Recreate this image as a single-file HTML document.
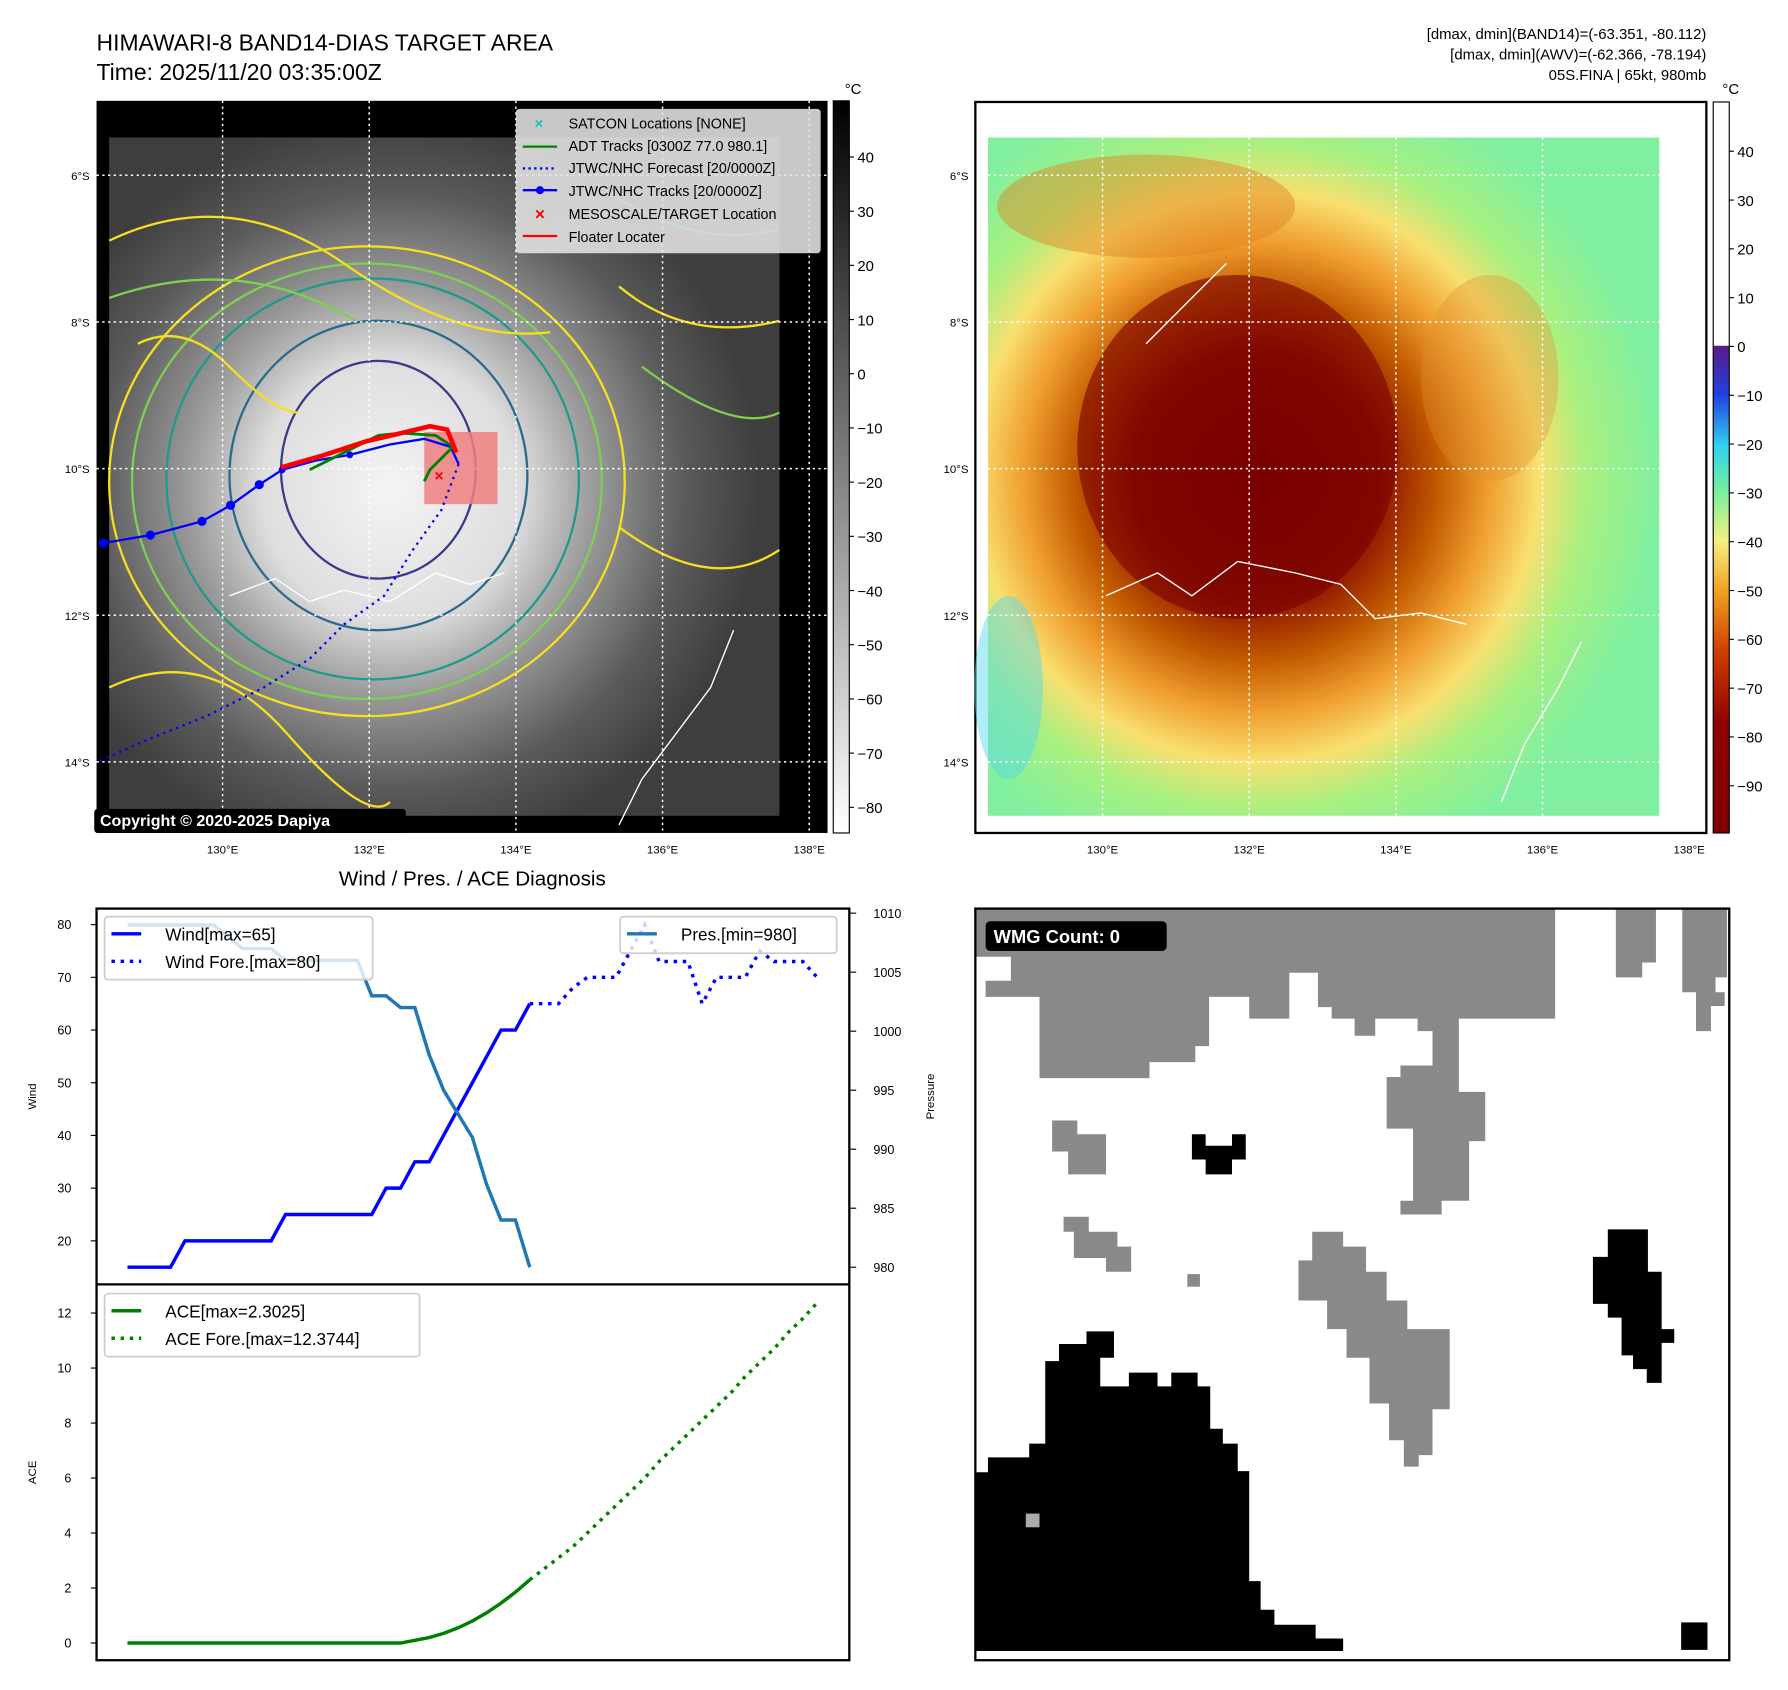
<!DOCTYPE html>
<html><head><meta charset="utf-8">
<style>
html,body{margin:0;padding:0;background:#fff;}
svg{display:block;font-family:"Liberation Sans","DejaVu Sans",sans-serif;}
</style></head>
<body>
<svg id="root" width="1788" height="1690" viewBox="0 0 1560 1475" xmlns="http://www.w3.org/2000/svg">
<defs>
  <radialGradient id="cloud" cx="0.42" cy="0.52" r="0.55">
    <stop offset="0" stop-color="#f4f4f4"/>
    <stop offset="0.35" stop-color="#dedede"/>
    <stop offset="0.55" stop-color="#9a9a9a"/>
    <stop offset="0.8" stop-color="#5a5a5a"/>
    <stop offset="1" stop-color="#3e3e3e"/>
  </radialGradient>
  <radialGradient id="awv" cx="0.4" cy="0.5" r="0.6">
    <stop offset="0" stop-color="#7a0000"/>
    <stop offset="0.3" stop-color="#8a1000"/>
    <stop offset="0.45" stop-color="#c25a00"/>
    <stop offset="0.58" stop-color="#f0a030"/>
    <stop offset="0.7" stop-color="#f8e070"/>
    <stop offset="0.82" stop-color="#a8f080"/>
    <stop offset="1" stop-color="#80f0a0"/>
  </radialGradient>
  <linearGradient id="cbGray" x1="0" y1="0" x2="0" y2="1">
    <stop offset="0" stop-color="#000"/>
    <stop offset="1" stop-color="#fff"/>
  </linearGradient>
  <linearGradient id="cbAwv" x1="0" y1="0" x2="0" y2="1">
    <stop offset="0" stop-color="#fff"/>
    <stop offset="0.333" stop-color="#fff"/>
    <stop offset="0.334" stop-color="#5a1a8a"/>
    <stop offset="0.4" stop-color="#2040e0"/>
    <stop offset="0.47" stop-color="#30d0f0"/>
    <stop offset="0.53" stop-color="#70f0a0"/>
    <stop offset="0.6" stop-color="#f8f080"/>
    <stop offset="0.67" stop-color="#f0a020"/>
    <stop offset="0.75" stop-color="#d04000"/>
    <stop offset="0.85" stop-color="#900000"/>
    <stop offset="1" stop-color="#800000"/>
  </linearGradient>
</defs>

<!-- ===== Top-left map ===== -->
<text x="84" y="44" font-size="20">HIMAWARI-8 BAND14-DIAS TARGET AREA</text>
<text x="84" y="70" font-size="20">Time: 2025/11/20 03:35:00Z</text>
<g>
  <rect x="84" y="88" width="638" height="639" fill="#000"/>
  <rect x="95" y="120" width="585" height="592" fill="url(#cloud)"/>
  <g fill="none" stroke-width="2">
    <ellipse cx="320" cy="420" rx="225" ry="205" stroke="#f5e020"/>
    <ellipse cx="320" cy="420" rx="205" ry="190" stroke="#7ed050"/>
    <ellipse cx="325" cy="418" rx="180" ry="175" stroke="#1e9a8a"/>
    <ellipse cx="330" cy="415" rx="130" ry="135" stroke="#2a6a8a"/>
    <ellipse cx="330" cy="410" rx="85" ry="95" stroke="#3a3a8a"/>
    <path d="M95 210 Q200 160 300 230 T480 290" stroke="#f5e020"/>
    <path d="M95 260 Q210 220 310 280" stroke="#7ed050"/>
    <path d="M120 300 Q160 280 200 320 T260 360" stroke="#f5e020"/>
    <path d="M520 160 Q600 220 680 200" stroke="#1e9a8a"/>
    <path d="M540 250 Q600 300 680 280" stroke="#f5e020"/>
    <path d="M540 460 Q620 520 680 480" stroke="#f5e020"/>
    <path d="M95 600 Q180 560 250 640 T340 700" stroke="#f5e020"/>
    <path d="M560 320 Q640 380 680 360" stroke="#7ed050"/>
  </g>
  <g stroke="#fff" stroke-width="1.3" stroke-dasharray="2,3" fill="none">
    <line x1="194" y1="88" x2="194" y2="727"/><line x1="322" y1="88" x2="322" y2="727"/><line x1="450" y1="88" x2="450" y2="727"/><line x1="578" y1="88" x2="578" y2="727"/><line x1="706" y1="88" x2="706" y2="727"/>
    <line x1="84" y1="153" x2="722" y2="153"/><line x1="84" y1="281" x2="722" y2="281"/><line x1="84" y1="409" x2="722" y2="409"/><line x1="84" y1="537" x2="722" y2="537"/><line x1="84" y1="665" x2="722" y2="665"/>
  </g>
  <path d="M200 520 L240 505 L270 525 L300 515 L340 525 L380 500 L410 510 L440 500 M540 720 L560 680 L590 640 L620 600 L640 550" stroke="#fff" fill="none" stroke-width="1.2"/>
  <rect x="370" y="377" width="64" height="63" fill="#f08080" opacity="0.85"/>
  <polyline points="400,405 385,445 360,480 335,520 300,545 270,575 230,600 180,625 130,645 85,665" fill="none" stroke="#0000ff" stroke-width="2" stroke-dasharray="2,4"/>
  <polyline points="90,474 131,467 176,455 201,441 226,423 246,410 275,402 305,397 340,388 370,383 393,390 400,405" fill="none" stroke="#0000ff" stroke-width="2"/>
  <g fill="#0000ff"><circle cx="90" cy="474" r="4"/><circle cx="131" cy="467" r="4"/><circle cx="176" cy="455" r="4"/><circle cx="201" cy="441" r="4"/><circle cx="226" cy="423" r="4"/><circle cx="246" cy="410" r="3"/><circle cx="305" cy="397" r="3"/></g>
  <polyline points="270,410 300,395 330,380 350,378 380,380 395,390 375,410 370,420" fill="none" stroke="#008000" stroke-width="2.5"/>
  <polyline points="245,408 280,398 320,385 350,378 375,372 390,375 398,395" fill="none" stroke="#ff0000" stroke-width="4"/>
  <text x="383" y="420" font-size="14" fill="#ff0000" text-anchor="middle" font-weight="bold">×</text>
  <rect x="82" y="706" width="272" height="21" rx="3" fill="#000"/>
  <text x="87" y="721" font-size="14" font-weight="bold" fill="#fff">Copyright © 2020-2025 Dapiya</text>
</g>
<g>
  <rect x="450" y="95" width="266" height="126" rx="3" fill="#e4e4e4" opacity="0.88"/>
  <text x="470" y="112" font-size="13" fill="#10c0c0" text-anchor="middle" font-weight="bold">×</text>
  <text x="496" y="112" font-size="12.5">SATCON Locations [NONE]</text>
  <line x1="456" y1="128" x2="486" y2="128" stroke="#008000" stroke-width="2"/>
  <text x="496" y="132" font-size="12.5">ADT Tracks [0300Z 77.0 980.1]</text>
  <line x1="456" y1="147" x2="486" y2="147" stroke="#0000ff" stroke-width="2" stroke-dasharray="2,3"/>
  <text x="496" y="151" font-size="12.5">JTWC/NHC Forecast [20/0000Z]</text>
  <line x1="456" y1="166" x2="486" y2="166" stroke="#0000ff" stroke-width="2"/><circle cx="471" cy="166" r="3.5" fill="#0000ff"/>
  <text x="496" y="171" font-size="12.5">JTWC/NHC Tracks [20/0000Z]</text>
  <text x="471" y="192" font-size="15" fill="#ff0000" text-anchor="middle" font-weight="bold">×</text>
  <text x="496" y="191" font-size="12.5">MESOSCALE/TARGET Location</text>
  <line x1="456" y1="206" x2="486" y2="206" stroke="#ff0000" stroke-width="2"/>
  <text x="496" y="211" font-size="12.5">Floater Locater</text>
</g>
<g id="lonL" font-size="10" text-anchor="middle"></g>
<g id="latL" font-size="10" text-anchor="end"></g>
<g>
  <rect x="727" y="88" width="14" height="639" fill="url(#cbGray)" stroke="#000" stroke-width="1"/>
  <text x="737" y="82" font-size="13">°C</text>
  <g id="cb1" font-size="13"></g>
</g>

<!-- ===== Top-right map ===== -->
<text x="1489" y="34" font-size="13" text-anchor="end">[dmax, dmin](BAND14)=(-63.351, -80.112)</text>
<text x="1489" y="52" font-size="13" text-anchor="end">[dmax, dmin](AWV)=(-62.366, -78.194)</text>
<text x="1489" y="70" font-size="13" text-anchor="end">05S.FINA | 65kt, 980mb</text>
<g>
  <rect x="851" y="89" width="638" height="638" fill="#fff" stroke="#000" stroke-width="2"/>
  <rect x="862" y="120" width="586" height="592" fill="url(#awv)"/>
  <ellipse cx="1080" cy="390" rx="140" ry="150" fill="#7a0000" opacity="0.6"/>
  <ellipse cx="1000" cy="180" rx="130" ry="45" fill="#e08020" opacity="0.45"/>
  <ellipse cx="1300" cy="330" rx="60" ry="90" fill="#e09030" opacity="0.35"/>
  <ellipse cx="880" cy="600" rx="30" ry="80" fill="#50d8f0" opacity="0.45"/>
  <g stroke="#fff" stroke-width="1.3" stroke-dasharray="2,3" fill="none">
    <line x1="962" y1="120" x2="962" y2="712"/><line x1="1090" y1="120" x2="1090" y2="712"/><line x1="1218" y1="120" x2="1218" y2="712"/><line x1="1346" y1="120" x2="1346" y2="712"/>
    <line x1="862" y1="153" x2="1448" y2="153"/><line x1="862" y1="281" x2="1448" y2="281"/><line x1="862" y1="409" x2="1448" y2="409"/><line x1="862" y1="537" x2="1448" y2="537"/><line x1="862" y1="665" x2="1448" y2="665"/>
  </g>
  <path d="M965 520 L1010 500 L1040 520 L1080 490 L1130 500 L1170 510 L1200 540 L1240 535 L1280 545 M1000 300 L1040 260 L1070 230 M1310 700 L1330 650 L1360 600 L1380 560" stroke="#fff" fill="none" stroke-width="1.2"/>
</g>
<g id="lonR" font-size="10" text-anchor="middle"></g>
<g id="latR" font-size="10" text-anchor="end"></g>
<g>
  <rect x="1495" y="89" width="14" height="638" fill="url(#cbAwv)" stroke="#000" stroke-width="1"/>
  <text x="1503" y="82" font-size="13">°C</text>
  <g id="cb2" font-size="13"></g>
</g>

<!-- ===== Bottom-left chart ===== -->
<text x="412" y="773" font-size="18" text-anchor="middle">Wind / Pres. / ACE Diagnosis</text>
<g id="chart"></g>

<!-- ===== Bottom-right WMG ===== -->
<g>
  <rect x="851" y="793" width="658" height="656" fill="#fff"/>
  <g fill="#898989">
    <polygon points="851,793 1357,793 1357,889 1273,889 1273,930 1250,930 1250,900 1237,900 1237,889 1200,889 1200,904 1182,904 1182,889 1162,889 1162,879 1150,879 1150,849 1125,849 1125,889 1090,889 1090,870 1055,870 1055,913 1043,913 1043,927 1003,927 1003,941 907,941 907,870 860,870 860,856 882,856 882,835 851,835"/>
    <polygon points="1222,930 1273,930 1273,953 1296,953 1296,996 1282,996 1282,1048 1258,1048 1258,1060 1222,1060 1222,1048 1233,1048 1233,985 1210,985 1210,940 1222,940"/>
    <polygon points="1410,793 1445,793 1445,840 1433,840 1433,853 1410,853"/>
    <polygon points="1468,793 1507,793 1507,853 1497,853 1497,866 1505,866 1505,878 1493,878 1493,900 1480,900 1480,866 1468,866"/>
    <polygon points="918,978 940,978 940,990 965,990 965,1025 932,1025 932,1005 918,1005"/>
    <polygon points="928,1062 950,1062 950,1075 975,1075 975,1088 987,1088 987,1110 965,1110 965,1098 937,1098 937,1075 928,1075"/>
    <rect x="1036" y="1112" width="11" height="11"/>
    <polygon points="1145,1075 1172,1075 1172,1088 1192,1088 1192,1110 1210,1110 1210,1135 1228,1135 1228,1160 1265,1160 1265,1230 1250,1230 1250,1270 1238,1270 1238,1280 1225,1280 1225,1257 1212,1257 1212,1225 1195,1225 1195,1185 1175,1185 1175,1160 1158,1160 1158,1135 1133,1135 1133,1100 1145,1100"/>
  </g>
  <g fill="#000">
    <polygon points="1040,990 1052,990 1052,1000 1075,1000 1075,990 1087,990 1087,1012 1075,1012 1075,1025 1052,1025 1052,1012 1040,1012"/>
    <polygon points="1403,1073 1438,1073 1438,1110 1450,1110 1450,1160 1461,1160 1461,1172 1450,1172 1450,1207 1437,1207 1437,1195 1425,1195 1425,1183 1415,1183 1415,1150 1403,1150 1403,1138 1390,1138 1390,1097 1403,1097"/>
    <polygon points="851,1285 862,1285 862,1272 898,1272 898,1260 912,1260 912,1188 924,1188 924,1173 948,1173 948,1162 972,1162 972,1185 960,1185 960,1210 985,1210 985,1198 1010,1198 1010,1210 1022,1210 1022,1198 1045,1198 1045,1210 1056,1210 1056,1247 1067,1247 1067,1260 1080,1260 1080,1284 1090,1284 1090,1380 1100,1380 1100,1405 1112,1405 1112,1418 1148,1418 1148,1430 1172,1430 1172,1441 851,1441"/>
    <rect x="1467" y="1416" width="23" height="24"/>
  </g>
  <rect x="895" y="1321" width="12" height="12" fill="#aaa"/>
  <rect x="851" y="793" width="658" height="656" fill="none" stroke="#000" stroke-width="2"/>
  <rect x="860" y="804" width="158" height="26" rx="4" fill="#000"/>
  <text x="867" y="823" font-size="16" font-weight="bold" fill="#fff">WMG Count: 0</text>
</g>

<script>
// ---- chart data ----
const obsIndex = [0,1,2,3,4,5,6,7,8,9,10,11,12,13,14,15,16,17,18,19,20,21,22,23,24,25,26,27,28];
const windObs = [15,15,15,15,20,20,20,20,20,20,20,25,25,25,25,25,25,25,30,30,35,35,40,45,50,55,60,60,65];
const presObs = [1009,1009,1009,1009,1009,1009,1009,1008,1007,1007,1007,1006,1006,1006,1006,1006,1006,1003,1003,1002,1002,998,995,993,991,987,984,984,980];
const aceObs = [0,0,0,0,0,0,0,0,0,0,0,0,0,0,0,0,0,0,0,0,0.1,0.2,0.35,0.55,0.8,1.1,1.45,1.85,2.3];
const foreIndex = [28,29,30,31,32,33,34,35,36,37,38,39,40,41,42,43,44,45,46,47,48];
const windFore = [65,65,65,68,70,70,70,75,80,73,73,73,65,70,70,70,75,73,73,73,70];
const aceFore = [2.3,2.7,3.1,3.5,4.0,4.5,5.0,5.5,6.0,6.6,7.1,7.6,8.1,8.6,9.1,9.7,10.2,10.7,11.3,11.8,12.37];
const windTicks = [20,30,40,50,60,70,80];
const presTicks = [980,985,990,995,1000,1005,1010];
const aceTicks = [0,2,4,6,8,10,12];
const cbGrayTicks = [40,30,20,10,0,-10,-20,-30,-40,-50,-60,-70,-80];
const cbAwvTicks = [40,30,20,10,0,-10,-20,-30,-40,-50,-60,-70,-80,-90];
const lonLabels = ['130°E','132°E','134°E','136°E','138°E'];
const latLabels = ['6°S','8°S','10°S','12°S','14°S'];

const NS='http://www.w3.org/2000/svg';
function mk(tag, attrs, parent, txt){const e=document.createElementNS(NS,tag);for(const k in attrs)e.setAttribute(k,attrs[k]);if(txt!==undefined)e.textContent=txt;parent.appendChild(e);return e;}

const xS = i => 111 + i*12.54;
const yWind = v => 807 + (80-v)*4.6;
const yPres = v => 797 + (1010-v)*10.3;
const yAce = v => 1434 - v*24;

const lonL=document.getElementById('lonL'), latL=document.getElementById('latL');
const lonR=document.getElementById('lonR'), latR=document.getElementById('latR');
lonLabels.forEach((t,i)=>{
  const a=mk('text',{x:194+i*128,y:745},lonL,t);
  
  
  const b=mk('text',{x:962+i*128,y:745},lonR,t);
  
  
});
latLabels.forEach((t,i)=>{
  const a=mk('text',{x:78,y:157+i*128},latL,t);
  
  
  const b=mk('text',{x:845,y:157+i*128},latR,t);
  
  
});
const cb1=document.getElementById('cb1'), cb2=document.getElementById('cb2');
cbGrayTicks.forEach(v=>{
  const y=137+(40-v)*4.73;
  mk('line',{x1:741,y1:y,x2:745,y2:y,stroke:'#000'},cb1);
  const t=mk('text',{x:748,y:y+5},cb1,v<0?'\u2212'+(-v):String(v));
  
  
});
cbAwvTicks.forEach(v=>{
  const y=132+(40-v)*4.26;
  mk('line',{x1:1509,y1:y,x2:1513,y2:y,stroke:'#000'},cb2);
  const t=mk('text',{x:1516,y:y+5},cb2,v<0?'\u2212'+(-v):String(v));
  
  
});

const ch=document.getElementById('chart');
mk('rect',{x:84,y:793,width:657,height:656,fill:'#fff'},ch);
windTicks.forEach(v=>{const y=yWind(v);mk('line',{x1:79,y1:y,x2:84,y2:y,stroke:'#000'},ch);
  const t=mk('text',{x:62,y:y+4,'font-size':11,'text-anchor':'end'},ch,String(v));
  
  });
presTicks.forEach(v=>{const y=yPres(v);mk('line',{x1:741,y1:y,x2:747,y2:y,stroke:'#000'},ch);
  const t=mk('text',{x:762,y:y+4,'font-size':11},ch,String(v));
  
  });
aceTicks.forEach(v=>{const y=yAce(v);mk('line',{x1:79,y1:y,x2:84,y2:y,stroke:'#000'},ch);
  const t=mk('text',{x:62,y:y+4,'font-size':11,'text-anchor':'end'},ch,String(v));
  
  });
const yl1=mk('text',{x:31,y:957,'font-size':10,'text-anchor':'middle',transform:'rotate(-90 31 957)'},ch,'Wind');


const yl2=mk('text',{x:815,y:957,'font-size':10,'text-anchor':'middle',transform:'rotate(-90 815 957)'},ch,'Pressure');


const yl3=mk('text',{x:31,y:1285,'font-size':10,'text-anchor':'middle',transform:'rotate(-90 31 1285)'},ch,'ACE');



function line(xs,ys,fy,attrs,name){
  const pts=xs.map((x,i)=>xS(x).toFixed(1)+','+fy(ys[i]).toFixed(1)).join(' ');
  const p=mk('polyline',Object.assign({points:pts,fill:'none'},attrs),ch);
  
  
}
line(obsIndex,windObs,yWind,{stroke:'#0000ff','stroke-width':3},'wind-line');
line(foreIndex,windFore,yWind,{stroke:'#0000ff','stroke-width':3,'stroke-dasharray':'3,5'},'wind-forecast-line');
line(obsIndex,presObs,yPres,{stroke:'#1f77b4','stroke-width':3},'pressure-line');
line(obsIndex,aceObs,yAce,{stroke:'#008000','stroke-width':3},'ace-line');
line(foreIndex,aceFore,yAce,{stroke:'#008000','stroke-width':3,'stroke-dasharray':'3,5'},'ace-forecast-line');

mk('rect',{x:84,y:793,width:657,height:656,fill:'none',stroke:'#000','stroke-width':2},ch);
mk('line',{x1:84,y1:1121,x2:741,y2:1121,stroke:'#000','stroke-width':2},ch);

function legend(x,y,w,h,items,name){
  const g=mk('g',{},ch);
  
  
  mk('rect',{x:x,y:y,width:w,height:h,rx:3,fill:'#fff','fill-opacity':0.8,stroke:'#ccc','stroke-width':1.5},g);
  items.forEach((it,i)=>{const ly=y+15+i*24;
    const a={x1:x+6,y1:ly,x2:x+32,y2:ly,stroke:it[1],'stroke-width':3};
    if(it[2])a['stroke-dasharray']='3,5';
    mk('line',a,g);
    mk('text',{x:x+53,y:ly+6,'font-size':15},g,it[0]);});
}
legend(91,800,234,55,[['Wind[max=65]','#0000ff',0],['Wind Fore.[max=80]','#0000ff',1]],'wind-legend');
legend(541,800,189,32,[['Pres.[min=980]','#1f77b4',0]],'pressure-legend');
legend(91,1129,275,55,[['ACE[max=2.3025]','#008000',0],['ACE Fore.[max=12.3744]','#008000',1]],'ace-legend');
</script>
</svg>
</body></html>
